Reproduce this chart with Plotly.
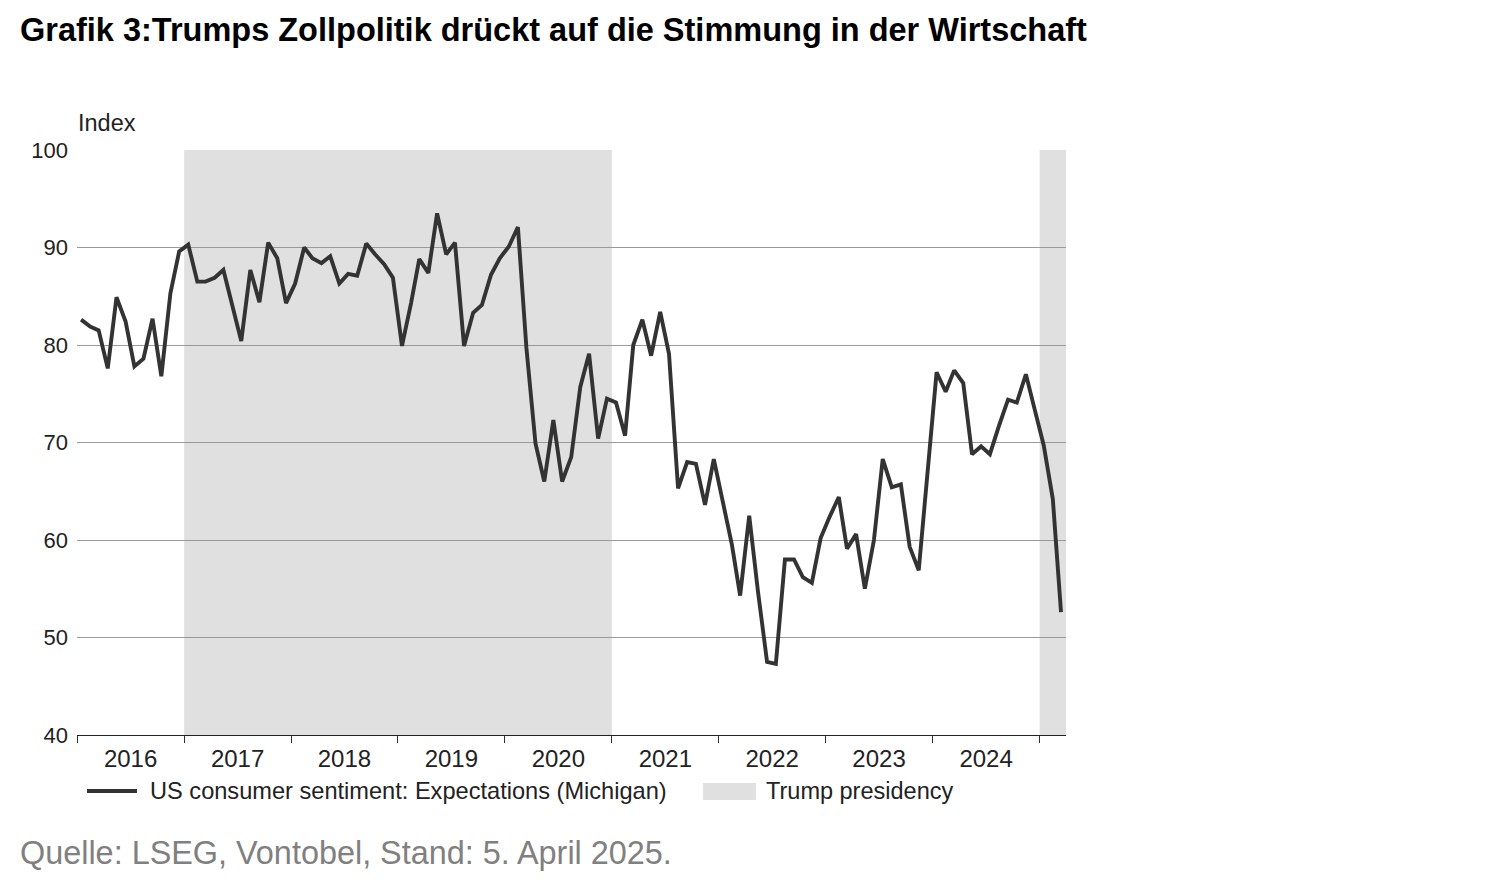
import pandas as pd
import plotly.graph_objects as go

# ---- Data (monthly, Jan 2016 - Mar 2025) ----
start_month = "2016-01-01"
expectations = [
    82.6, 81.9, 81.5, 77.6, 84.9, 82.4, 77.8, 78.6, 82.7, 76.8, 85.3, 89.6,   # 2016
    90.3, 86.5, 86.5, 86.9, 87.7, 83.9, 80.4, 87.7, 84.4, 90.5, 88.9, 84.3,   # 2017
    86.3, 90.0, 88.9, 88.4, 89.1, 86.3, 87.3, 87.1, 90.4, 89.3, 88.3, 86.9,   # 2018
    79.9, 84.3, 88.8, 87.4, 93.5, 89.3, 90.5, 79.9, 83.3, 84.1, 87.2, 88.9,   # 2019
    90.1, 92.1, 79.7, 69.9, 66.0, 72.3, 66.0, 68.5, 75.7, 79.1, 70.4, 74.5,   # 2020
    74.1, 70.7, 80.0, 82.6, 78.9, 83.4, 79.1, 65.3, 68.0, 67.8, 63.6, 68.3,   # 2021
    64.0, 59.5, 54.3, 62.5, 54.7, 47.5, 47.3, 58.0, 58.0, 56.2, 55.6, 60.2,   # 2022
    62.4, 64.4, 59.1, 60.6, 55.0, 60.0, 68.3, 65.4, 65.7, 59.3, 56.9, 67.0,   # 2023
    77.2, 75.2, 77.4, 76.1, 68.8, 69.6, 68.8, 71.7, 74.4, 74.1, 77.0, 73.4,   # 2024
    69.7, 64.2, 52.6,                                                         # 2025
]
dates = pd.date_range(start_month, periods=len(expectations), freq="MS") + pd.Timedelta(days=14)

trump_starts = ["2017-01-01", "2025-01-01"]
trump_ends = ["2021-01-01", "2025-04-01"]

x_range = ["2016-01-01", "2025-04-01"]
y_range = [40, 100]

series_name = "US consumer sentiment: Expectations (Michigan)"
shade_name = "Trump presidency"
title_text = "Grafik 3:Trumps Zollpolitik drückt auf die Stimmung in der Wirtschaft"
source_text = "Quelle: LSEG, Vontobel, Stand: 5. April 2025."
y_unit = "Index"

# ---- Layout geometry (page pixels; page has an 8px body margin) ----
OFF = 8
W, H = 1500 - 2 * OFF, 892 - 2 * OFF
L, R, T, B = 77, 1066, 150, 735
pw, ph = R - L, B - T

def px_x(p):
    return (p - L) / pw

def px_y(p):
    return (B - p) / ph

FONT = "Liberation Sans, Arial, sans-serif"
LINE_COLOR = "#333333"
SHADE = "#e0e0e0"

fig = go.Figure()
fig.add_trace(go.Scatter(
    x=dates, y=expectations, mode="lines", name=series_name,
    line=dict(color=LINE_COLOR, width=3.9), showlegend=False,
))

shapes = []
for s, e in zip(trump_starts, trump_ends):
    shapes.append(dict(type="rect", xref="x", yref="paper", x0=s, x1=e, y0=0, y1=1,
                       fillcolor=SHADE, line=dict(width=0), layer="below"))

# manual legend
leg_y = px_y(791)
shapes.append(dict(type="line", xref="paper", yref="paper", x0=px_x(87), x1=px_x(137),
                   y0=leg_y, y1=leg_y, line=dict(color=LINE_COLOR, width=4)))
shapes.append(dict(type="rect", xref="paper", yref="paper", x0=px_x(703), x1=px_x(756),
                   y0=px_y(800), y1=px_y(783), fillcolor=SHADE, line=dict(width=0)))

annotations = [
    dict(text=y_unit, xref="paper", yref="paper", x=px_x(76), y=px_y(123),
         xanchor="left", yanchor="middle", showarrow=False,
         font=dict(family=FONT, size=23.5, color="#222222")),
    dict(text=series_name, xref="paper", yref="paper", x=px_x(148), y=leg_y,
         xanchor="left", yanchor="middle", showarrow=False,
         font=dict(family=FONT, size=23.6, color="#222222")),
    dict(text=shade_name, xref="paper", yref="paper", x=px_x(764), y=leg_y,
         xanchor="left", yanchor="middle", showarrow=False,
         font=dict(family=FONT, size=23.5, color="#222222")),
    dict(text=source_text, xref="paper", yref="paper", x=px_x(18), y=px_y(853),
         xanchor="left", yanchor="middle", showarrow=False,
         font=dict(family=FONT, size=32.4, color="#808080")),
]

fig.update_layout(
    width=W, height=H,
    margin=dict(l=L - OFF, r=W + OFF - R, t=T - OFF, b=H + OFF - B, pad=0),
    paper_bgcolor="white", plot_bgcolor="rgba(0,0,0,0)",
    title=dict(text="<b>" + title_text + "</b>", xref="container", yref="container",
               x=(20 - OFF) / W, y=1 - (30 - OFF) / H, xanchor="left", yanchor="middle",
               font=dict(family=FONT, size=32.5, color="#000000")),
    shapes=shapes, annotations=annotations, showlegend=False,
    font=dict(family=FONT, size=22, color="#222222"),
)
fig.update_xaxes(
    type="date", range=x_range, tick0="2016-01-01", dtick="M12", tickformat="%Y",
    ticklabelmode="period", ticks="outside", ticklen=7, tickwidth=1, tickcolor="#333333",
    showline=True, linecolor="#222222", linewidth=1.2, showgrid=False, zeroline=False,
    ticklabelstandoff=-5,
    tickfont=dict(family=FONT, size=24, color="#222222"),
)
fig.update_yaxes(
    range=y_range, dtick=10, showgrid=True, gridcolor="#9a9a9a", gridwidth=1.2,
    zeroline=False, showline=False, ticks="", ticklabelstandoff=8,
    tickfont=dict(family=FONT, size=22, color="#222222"),
)

fig.write_html("out.html")
